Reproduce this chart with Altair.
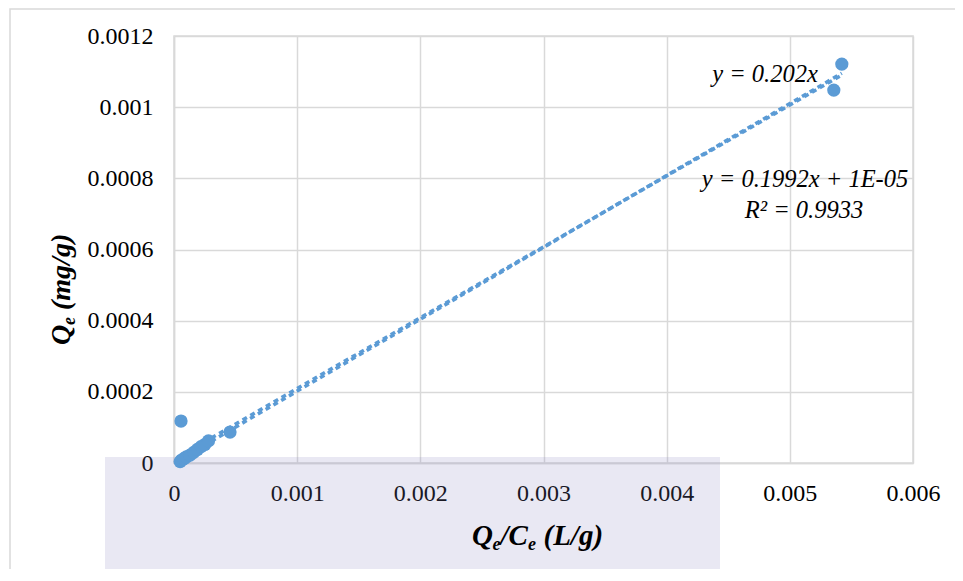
import altair as alt
import pandas as pd

# ---- data ----
qe_ce = [0.000057, 0.00005, 0.000062, 0.00008, 0.0001, 0.00013, 0.00016, 0.00019, 0.00022, 0.00025, 0.00028, 0.000455, 0.005357, 0.005422]
qe = [0.000118, 0.000004, 0.0000084, 0.000012, 0.000017, 0.000022, 0.00003, 0.000038, 0.000046, 0.000052, 0.000062, 0.000087, 0.001048, 0.001121]

trend_names = ["y = 0.202x", "y = 0.1992x + 1E-05"]
trend_slopes = [0.202, 0.1992]
trend_intercepts = [0.0, 0.00001]

x_ticks = [0, 0.001, 0.002, 0.003, 0.004, 0.005, 0.006]
y_ticks = [0, 0.0002, 0.0004, 0.0006, 0.0008, 0.001, 0.0012]

label_linear = "y = 0.1992x + 1E-05"
label_r2 = "R² = 0.9933"
label_origin = "y = 0.202x"

# ---- tables ----
pts = pd.DataFrame({"x": qe_ce, "y": qe})
xmin, xmax = min(qe_ce), max(qe_ce)
rows = []
for n, m, b in zip(trend_names, trend_slopes, trend_intercepts):
    for xv in (xmin, xmax):
        rows.append({"name": n, "x": xv, "y": m * xv + b})
trend = pd.DataFrame(rows)

BLUE = "#5B9BD5"
GRID = "#d9d9d9"
FONT = "Liberation Serif"

W, H = 739, 427
xs = alt.Scale(domain=[0, 0.006], nice=False, zero=False)
ys = alt.Scale(domain=[0, 0.0012], nice=False, zero=False)

def one(**kw):
    return alt.Data(values=[kw if kw else {"k": 1}])

# background watermark band (translucent) and outer frame
watermark = alt.Chart(one()).mark_rect(fill="#8c86c0", opacity=0.19).encode(
    x=alt.value(-69), x2=alt.value(546), y=alt.value(421), y2=alt.value(560)
)
frame = alt.Chart(one()).mark_rect(fill="transparent", stroke=GRID, strokeWidth=1.5).encode(
    x=alt.value(-164), x2=alt.value(820), y=alt.value(-27), y2=alt.value(580)
)

lines = alt.Chart(trend).mark_line(
    color=BLUE, strokeWidth=3.5, strokeDash=[5, 4]
).encode(
    x=alt.X("x:Q", scale=xs, axis=alt.Axis(
        values=x_ticks, format="~g", title=None, labelFlush=False,
        labelPadding=18, labelOverlap=False, labelFont=FONT, labelFontSize=24)),
    y=alt.Y("y:Q", scale=ys, axis=alt.Axis(
        values=y_ticks, format="~g", title=None, labelPadding=21,
        labelOverlap=False, labelFont=FONT, labelFontSize=24)),
    detail="name:N",
)

points = alt.Chart(pts).mark_circle(size=175, color=BLUE, opacity=1).encode(
    x=alt.X("x:Q", scale=xs), y=alt.Y("y:Q", scale=ys)
)

def note(txt, px, py):
    return alt.Chart(one(t=txt)).mark_text(
        font=FONT, fontStyle="italic", fontSize=24.5, color="black",
        align="center", baseline="middle"
    ).encode(text="t:N", x=alt.value(px), y=alt.value(py))

notes = [note(label_origin, 591, 39), note(label_linear, 631, 144), note(label_r2, 630, 175)]

def title_runs(runs, px, py, angle):
    layers = []
    for txt, size, dx, dy in runs:
        layers.append(alt.Chart(one(t=txt)).mark_text(
            font=FONT, fontStyle="italic", fontWeight="bold", fontSize=size,
            color="black", align="left", baseline="alphabetic",
            angle=angle, dx=dx, dy=dy
        ).encode(text="t:N", x=alt.value(px), y=alt.value(py)))
    return layers

xt = title_runs([("Q", 29, 0, 0), ("e", 18, 20.5, 5), ("/C", 29, 28.5, 0),
                 ("e", 18, 56, 5), ("(L/g)", 29, 71.5, 0)], 298, 509, 0)
yt = title_runs([("Q", 28, 0, 0), ("e", 18, 20, 5), ("(mg/g)", 28, 35, 0)],
                -104, 309, 270)

chart = alt.layer(watermark, frame, lines, points, *notes, *xt, *yt).properties(
    width=W, height=H,
    autosize=alt.AutoSizeParams(type="none"),
    padding={"left": 166, "top": 28, "right": 42, "bottom": 106},
    background="white",
).configure_axis(
    grid=True, gridColor=GRID, gridWidth=1.5, domainColor=GRID, domainWidth=1.5,
    ticks=False, labelFont=FONT, labelFontSize=24, labelColor="black",
).configure_view(stroke=GRID, strokeWidth=1.5)

chart.save("out.html", embed_options={"renderer": "svg", "actions": False})
